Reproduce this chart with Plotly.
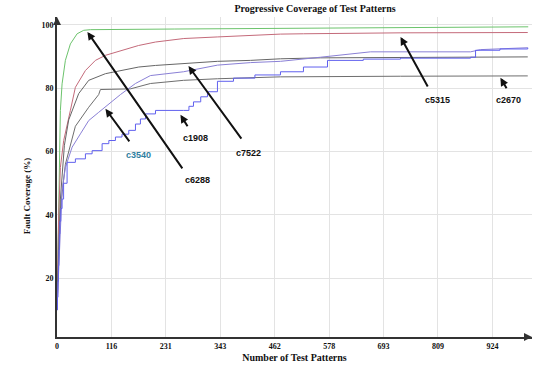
import plotly.graph_objects as go

# ---------------- data ----------------
x_tick_vals = [0, 115.5, 231, 346.5, 462, 577.5, 693, 808.5, 924]
x_tick_text = ["0", "116", "231", "343", "462", "578", "693", "809", "924"]
y_tick_vals = [20, 40, 60, 80, 100]
y_tick_text = ["20", "40", "60", "80", "100"]

c6288_x = [0, 2, 3.6, 7.2, 10.8, 17.8, 28.4, 42.7, 56.7, 71, 250, 500, 750, 1000]
c6288_y = [10, 30, 48.8, 73, 81.4, 88.8, 94, 97.2, 98.3, 98.5, 98.7, 99, 99.2, 99.4]

c5315_x = [0, 3.6, 7.2, 14.2, 28.4, 39, 60.3, 81.5, 102.8, 138, 173, 209, 269, 340, 410, 474, 523, 666, 729, 999]
c5315_y = [10, 40, 55, 63.5, 73, 80.3, 85.6, 88.8, 90.4, 92, 93.5, 94.6, 95.7, 96.2, 96.7, 97.1, 97.2, 97.5, 97.5, 97.6]

c7522_x = [0, 7.2, 15.7, 24.8, 46, 67.3, 102.8, 138, 173.5, 209, 268.4, 340.5, 410.6, 474.2, 559, 729, 999]
c7522_y = [10, 45, 62, 70, 78.3, 82.5, 84.6, 85.6, 86.7, 87.2, 87.7, 88.5, 88.8, 89.3, 89.6, 89.8, 89.9]

c2670_x = [0, 7.2, 17.8, 39, 67.3, 88.5, 92.1, 155.8, 198.2, 268.4, 340.5, 474.2, 729, 999]
c2670_y = [10, 42, 56, 68, 74, 78, 79.6, 79.8, 81.5, 82.5, 83, 83.6, 83.8, 83.9]

c3540_x = [0, 10.8, 17.8, 32.1, 49.7, 67.3, 88.5, 109.7, 134.6, 166.5, 198.2, 268.4, 304.5, 340.5, 410.6, 474.2, 559, 665.3, 877.6, 898.8, 999]
c3540_y = [10, 47.7, 55, 61.4, 65.6, 69.8, 72.4, 75, 78, 81.5, 84, 85.2, 86.3, 87.3, 88.1, 88.5, 89.8, 91.5, 91.5, 92.2, 92.8]

c1908_x = [0, 1, 2, 3, 4, 5, 6, 8, 10.8, 14, 21.4, 39, 60.3, 74.5, 95.7, 110, 124, 138, 152.3, 166.5, 177, 187.8, 209, 268.4, 280, 289.6, 305, 319.3, 340.5, 374.5, 420, 474.2, 523, 574, 650, 729, 877.6, 888.2, 940, 999]
c1908_y = [10, 14, 19, 24, 29, 34, 38, 42, 45, 50, 56.6, 57.7, 59.3, 60.3, 62.5, 63.5, 64.6, 65.5, 66.7, 68.7, 70.3, 71.9, 73, 73, 74.3, 75.7, 77.3, 78.9, 82.2, 83.2, 84.2, 85.2, 86.7, 88.8, 89.2, 89.5, 89.8, 92, 92.4, 92.8]

# label annotations: name, arrow tip (data), arrow tail offset (px), label pos (data), colour
labels = [
    ("c6288", 64.5, 97.8, 96, 138, 298, 51, "#111111"),
    ("c3540", 102.8, 73.5, 25, 34, 173, 59, "#2f7f9f"),
    ("c1908", 262, 71.6, 8, 13, 294, 64.3, "#111111"),
    ("c7522", 279, 87, 54, 74, 406, 59.5, "#111111"),
    ("c5315", 729, 96.2, 28, 51, 808, 76.3, "#111111"),
    ("c2670", 941, 83.3, 7, 12, 958, 76.3, "#111111"),
]

series = [
    (c6288_x, c6288_y, "#6cc36c", "linear"),
    (c5315_x, c5315_y, "#c46a7a", "linear"),
    (c7522_x, c7522_y, "#666666", "linear"),
    (c2670_x, c2670_y, "#6e6e6e", "linear"),
    (c3540_x, c3540_y, "#8a80d6", "linear"),
    (c1908_x, c1908_y, "#6060ee", "hv"),
]

fig = go.Figure()
for xs, ys, col, shape in series:
    fig.add_trace(go.Scatter(x=xs, y=ys, mode="lines",
                             line=dict(color=col, width=1, shape=shape), showlegend=False,
                             hoverinfo="skip"))

serif = "Liberation Serif"
sans = "Liberation Sans"

annotations = []
for name, tx, ty, ax, ay, lx, ly, col in labels:
    annotations.append(dict(x=tx, y=ty, xref="x", yref="y", text="", showarrow=True,
                            ax=ax, ay=ay, arrowhead=2, arrowsize=0.8, arrowwidth=2,
                            arrowcolor="#111111", standoff=0, startstandoff=0))
    annotations.append(dict(x=lx, y=ly, xref="x", yref="y", text="<b>%s</b>" % name,
                            showarrow=False, font=dict(family=sans, size=9, color=col)))

# axis arrowheads
annotations.append(dict(x=1, y=0, xref="paper", yref="paper", text="", showarrow=True,
                        ax=-8, ay=0, arrowhead=2, arrowsize=0.8, arrowwidth=2, arrowcolor="#333333"))
annotations.append(dict(x=0, y=1, xref="paper", yref="paper", text="", showarrow=True,
                        ax=0, ay=8, arrowhead=2, arrowsize=0.8, arrowwidth=2, arrowcolor="#333333"))
# y axis title
annotations.append(dict(x=-0.078, y=0.44, xref="paper", yref="paper", text="<b>Fault Coverage (%)</b>",
                        showarrow=False, textangle=-90, font=dict(family=serif, size=9, color="#111")))

fig.update_layout(
    width=535, height=372,
    margin=dict(l=57, r=3, t=17, b=35),
    paper_bgcolor="white", plot_bgcolor="white",
    title=dict(text="<b>Progressive Coverage of Test Patterns</b>", x=0.589, xanchor="center",
               y=0.978, yanchor="middle", font=dict(family=serif, size=10, color="#111")),
    xaxis=dict(range=[0, 1008], tickvals=x_tick_vals, ticktext=x_tick_text,
               showgrid=True, gridcolor="#e3e3e3", gridwidth=1, zeroline=False,
               showline=True, linecolor="#333333", linewidth=2,
               tickfont=dict(family=serif, size=8, color="#111111", weight="bold"),
               title=dict(text="<b>Number of Test Patterns</b>", standoff=4,
                          font=dict(family=serif, size=10, color="#111"))),
    yaxis=dict(range=[1.45, 102.5], tickvals=y_tick_vals, ticktext=y_tick_text,
               showgrid=True, gridcolor="#e3e3e3", gridwidth=1, zeroline=False,
               showline=True, linecolor="#333333", linewidth=2,
               tickfont=dict(family=serif, size=8, color="#111111", weight="bold")),
    annotations=annotations,
)

fig.write_html("out.html", config={"displayModeBar": False, "staticPlot": True},
               post_script="document.body.style.margin='0';document.body.style.overflow='hidden';")
